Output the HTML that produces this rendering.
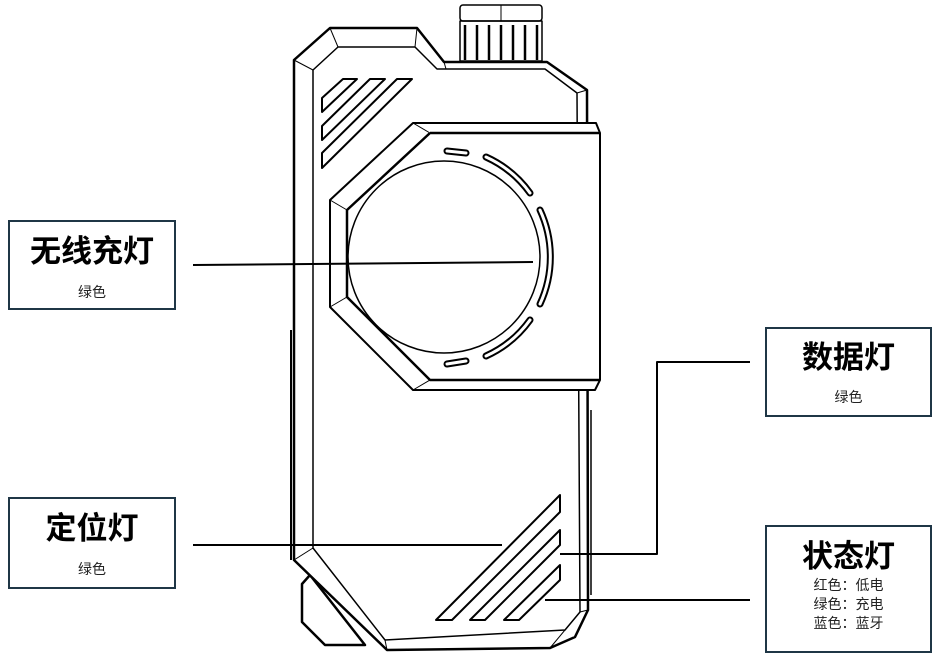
<!DOCTYPE html>
<html><head><meta charset="utf-8"><style>
body{margin:0;background:#fff;width:934px;height:655px;overflow:hidden;position:relative;font-family:"Liberation Sans","Noto Sans CJK SC",sans-serif}
.box{position:absolute;border:2px solid #1f3646;box-sizing:border-box;background:#fff;text-align:center;color:#000}
.t{font-size:31px;line-height:36px;font-weight:bold}
.s{font-size:14px;line-height:18px;color:#222}
svg{position:absolute;left:0;top:0}
</style></head><body>
<svg width="934" height="655" viewBox="0 0 934 655" fill="none" stroke="#000" stroke-linejoin="round">
<!-- bump -->
<path d="M310 575 L302 584 L302 622 L325 645 L365 645 Z" stroke-width="2.5" fill="#fff"/>
<!-- knob -->
<rect x="460" y="5" width="82" height="16" rx="3" stroke-width="1.5"/>
<line x1="501" y1="5" x2="501" y2="21" stroke-width="1"/>
<rect x="460" y="21" width="82" height="40" stroke-width="1.5"/>
<g stroke-width="2.5"><line x1="465" y1="25" x2="465" y2="60"/><line x1="477" y1="25" x2="477" y2="60"/><line x1="489" y1="25" x2="489" y2="60"/><line x1="501" y1="25" x2="501" y2="60"/><line x1="513" y1="25" x2="513" y2="60"/><line x1="525" y1="25" x2="525" y2="60"/><line x1="537" y1="25" x2="537" y2="60"/></g>
<!-- outer body -->
<path d="M294 60 L330 28 L417 28 L444 62 L547 62 L587 90 L588 610 L575 637 L550 648 L387 650 L294 560 Z" stroke-width="2.5" fill="#fff"/>
<path d="M313 70 L338 47 L415 47 L437 69 L545 69 L577 93 L580 612 L565 630 L385 640 L313 548 Z" stroke-width="1.5"/>
<line x1="294" y1="60" x2="313" y2="70" stroke-width="1"/><line x1="330" y1="28" x2="338" y2="47" stroke-width="1"/><line x1="417" y1="28" x2="415" y2="47" stroke-width="1"/>
<line x1="444" y1="62" x2="446" y2="69" stroke-width="1"/><line x1="587" y1="90" x2="577" y2="93" stroke-width="1"/>
<line x1="294" y1="560" x2="313" y2="548" stroke-width="1"/><line x1="387" y1="650" x2="385" y2="640" stroke-width="1"/>
<line x1="550" y1="648" x2="565" y2="630" stroke-width="1"/><line x1="588" y1="610" x2="580" y2="612" stroke-width="1"/>
<line x1="291" y1="330" x2="291" y2="560" stroke-width="2"/>
<line x1="591" y1="410" x2="591" y2="595" stroke-width="1.5"/>
<!-- hex panel -->
<path d="M413 123 L596 123 L600 133 L600 380 L595 390 L413 390 L330 307 L330 200 Z" stroke-width="2" fill="#fff"/>
<path d="M430 133 L600 133 M347 210 L430 133 M347 210 L347 297 L430 380 L600 380" stroke-width="2.5"/>
<line x1="413" y1="123" x2="430" y2="133" stroke-width="1"/><line x1="330" y1="200" x2="347" y2="210" stroke-width="1"/><line x1="330" y1="307" x2="347" y2="297" stroke-width="1"/><line x1="413" y1="390" x2="430" y2="380" stroke-width="1"/>
<circle cx="444" cy="257" r="96" stroke-width="1.5"/>
<!-- LED segments -->
<g stroke-width="7" stroke-linecap="round">
<line x1="447" y1="151" x2="466" y2="153"/><line x1="447" y1="364" x2="466" y2="361"/>
<path d="M486 157 A110 110 0 0 1 530 193"/><path d="M540 210 A112 112 0 0 1 540 304"/><path d="M530 320 A110 110 0 0 1 486 356"/>
</g>
<g stroke="#fff" stroke-width="3" stroke-linecap="round">
<line x1="447" y1="151" x2="466" y2="153"/><line x1="447" y1="364" x2="466" y2="361"/>
<path d="M486 157 A110 110 0 0 1 530 193"/><path d="M540 210 A112 112 0 0 1 540 304"/><path d="M530 320 A110 110 0 0 1 486 356"/>
</g>
<g stroke-width="2">
<polygon points="343,79 357,79 322,112 322,98"/>
<polygon points="370,79 385,79 322,140 322,126"/>
<polygon points="397,79 412,79 322,168 322,153"/>
<polygon points="560,495 560,512 452,620 436,620"/>
<polygon points="560,530 560,545 485,620 470,620"/>
<polygon points="560,565 560,580 519,620 504,620"/>
</g>
<g stroke-width="2">
<line x1="193" y1="265" x2="533" y2="262"/>
<line x1="193" y1="545" x2="502" y2="545"/>
<polyline points="750,362 657,362 657,554 560,554"/>
<line x1="750" y1="600" x2="545" y2="600"/>
</g>
</svg>
<div class="box" style="left:8px;top:220px;width:168px;height:90px"><div class="t" style="margin-top:12px">无线充灯</div><div class="s" style="margin-top:13px">绿色</div></div>
<div class="box" style="left:8px;top:497px;width:168px;height:92px"><div class="t" style="margin-top:12px">定位灯</div><div class="s" style="margin-top:13px">绿色</div></div>
<div class="box" style="left:765px;top:327px;width:167px;height:90px"><div class="t" style="margin-top:11px">数据灯</div><div class="s" style="margin-top:12px">绿色</div></div>
<div class="box" style="left:765px;top:525px;width:167px;height:128px"><div class="t" style="margin-top:12px">状态灯</div><div class="s" style="margin-top:1px;line-height:19px">红色：低电<br>绿色：充电<br>蓝色：蓝牙</div></div>
</body></html>
